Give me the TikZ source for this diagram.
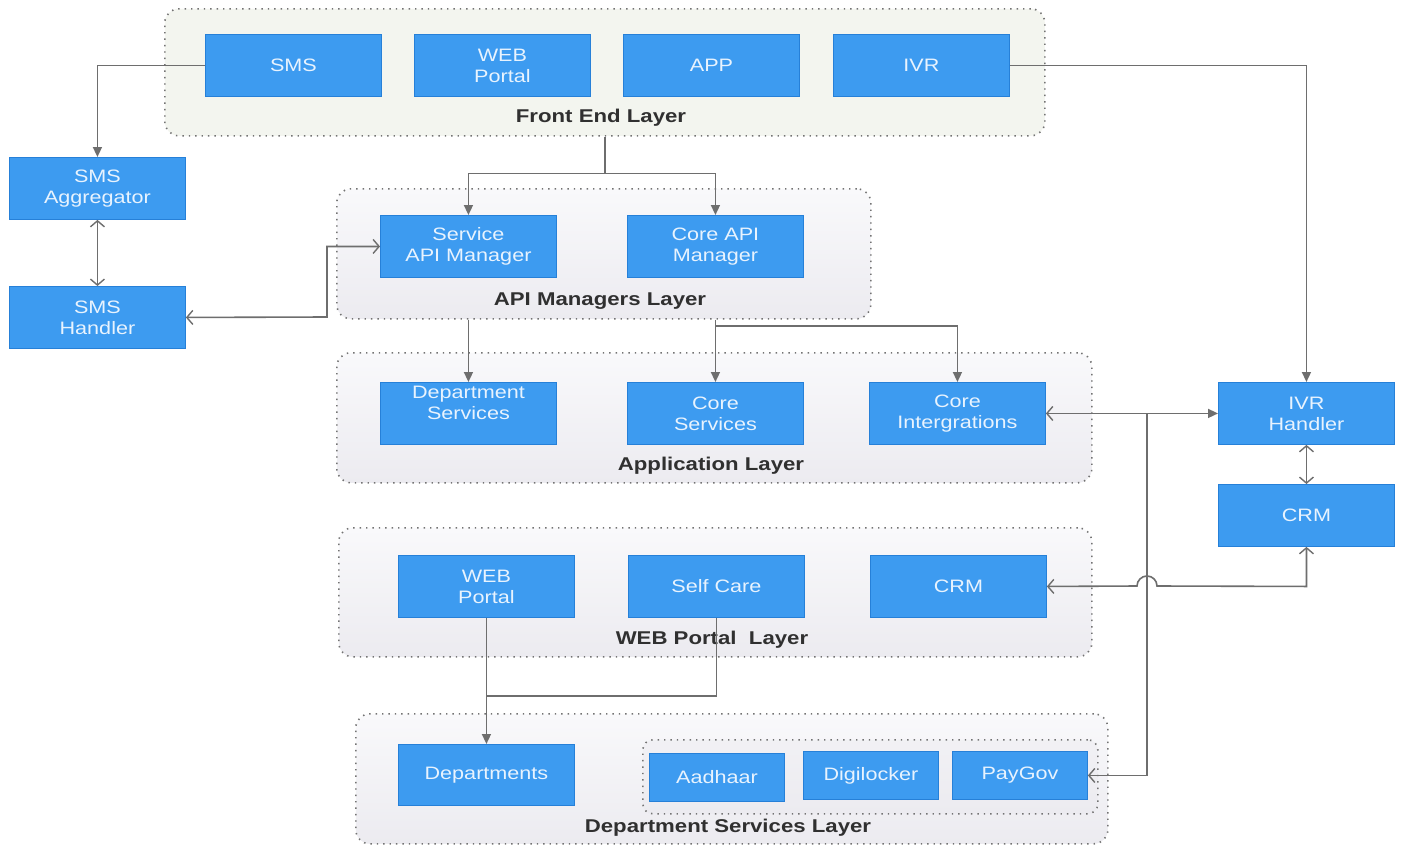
\documentclass[tikz,border=0pt]{standalone}
\usepackage{fontspec}
\setmainfont{Liberation Sans}[FakeStretch=1.2]
\usetikzlibrary{arrows.meta,calc}
\definecolor{boxfill}{RGB}{61,155,240}
\definecolor{boxdraw}{RGB}{38,128,216}
\definecolor{boxtextc}{RGB}{232,243,254}
\definecolor{linec}{RGB}{110,110,110}
\definecolor{layertop}{RGB}{249,249,251}
\definecolor{layerbot}{RGB}{236,235,240}
\definecolor{frontfill}{RGB}{243,245,239}
\definecolor{dotc}{RGB}{115,115,115}
\definecolor{labc}{RGB}{48,48,48}
\begin{document}
\begin{tikzpicture}[x=1pt,y=-1pt,
  box/.style={draw=boxdraw, line width=0.9pt, fill=boxfill, text=boxtextc, align=center,
    font=\fontsize{18}{21}\selectfont, inner sep=0pt, anchor=north west,
    minimum width=176, minimum height=62},
  boxtext/.style={text=boxtextc, align=center, font=\fontsize{18}{21}\selectfont, inner sep=0pt},
  layer/.style={draw=dotc, line width=1.6pt, dash pattern=on 1.4pt off 5pt,
    rounded corners=14pt, anchor=north west, inner sep=0pt,
    top color=layertop, bottom color=layerbot},
  layerlab/.style={text=labc, font=\fontsize{18.5}{21}\selectfont\bfseries, inner sep=0pt},
  conn/.style={draw=linec, line width=1.6pt},
  tri/.tip={Triangle[length=10pt,width=9pt]},
  barb/.tip={Straight Barb[length=6pt,width=14pt,line width=1.4pt]}
]
\useasboundingbox (0,0) rectangle (1403,846);
\fill[white] (0,0) rectangle (1403,846);

% layers
\node[layer, top color=frontfill, bottom color=frontfill, minimum width=880, minimum height=127] (fel) at (164,8) {};
\node[layer, minimum width=534, minimum height=130] (apil) at (336,188) {};
\node[layer, minimum width=755, minimum height=130] (appl) at (336,352) {};
\node[layer, minimum width=753, minimum height=129] (webl) at (338,527) {};
\node[layer, minimum width=752, minimum height=130] (depl) at (355,713) {};
\node[layer, top color=layerbot!60!layertop, bottom color=layerbot, minimum width=455, minimum height=74, rounded corners=10pt] (extl) at (642,739) {};

\node[layerlab] (fellab) at (601,118) {Front End Layer};
\node[layerlab] (apilab) at (600,301) {API Managers Layer};
\node[layerlab] (applab) at (711,466) {Application Layer};
\node[layerlab] (weblab) at (712,640) {WEB Portal~ Layer};
\node[layerlab] (deplab) at (728,828) {Department Services Layer};

% front end
\node[box] (sms) at (205,34) {SMS};
\node[box] (webf) at (414,34) {WEB\\Portal};
\node[box] (app) at (623,34) {APP};
\node[box] (ivr) at (833,34) {IVR};

% sms side
\node[box] (smsagg) at (9,157) {SMS\\Aggregator};
\node[box] (smshand) at (9,286) {SMS\\Handler};

% api managers
\node[box] (sapi) at (380,215) {Service\\API Manager};
\node[box] (capi) at (627,215) {Core API\\Manager};

% application
\node[box] (dserv) at (380,382) {};
\node[boxtext] (dservt) at ([yshift=11pt]dserv.center) {Department\\Services};
\node[box] (cserv) at (627,382) {Core\\Services};
\node[box] (cint) at (869,382) {Core\\Intergrations};

% ivr side
\node[box] (ivrh) at (1218,382) {IVR\\Handler};
\node[box] (crmr) at (1218,484) {CRM};

% web portal layer
\node[box] (webp) at (398,555) {WEB\\Portal};
\node[box] (selfc) at (628,555) {Self Care};
\node[box] (crmw) at (870,555) {CRM};

% department services
\node[box, minimum height=61] (deps) at (398,744) {Departments};
\node[box, minimum width=135, minimum height=48] (aadh) at (649,753) {Aadhaar};
\node[box, minimum width=135, minimum height=48] (digi) at (803,751) {Digilocker};
\node[box, minimum width=135, minimum height=48] (payg) at (952,751) {PayGov};

% connectors
\draw[conn,-tri] (sms.west) -| (smsagg.north);
\draw[conn,barb-barb] (smsagg.south) -- (smshand.north);
\draw[conn,barb-barb] (smshand.east) -- (327,317) |- (sapi.west);

\draw[conn] (fel.south) -- ++(0,37) coordinate (j1);
\draw[conn,-tri] (j1) -| (sapi.north);
\draw[conn,-tri] (j1) -| (capi.north);

\draw[conn,-tri] (ivr.east) -| (ivrh.north);

\draw[conn,-tri] (dserv.north |- apil.south) -- (dserv.north);
\draw[conn,-tri] (cserv.north |- apil.south) -- (cserv.north);
\draw[conn,-tri] (cserv.north |- 0,326) coordinate (j2) -| (cint.north);

\draw[conn,barb-tri] (cint.east) -- (ivrh.west);
\coordinate (j3) at (1147,413);
\draw[conn,-barb] (j3) |- (payg.east);

\draw[conn,barb-barb] (ivrh.south) -- (crmr.north);
\draw[conn,barb-barb] (crmr.south) -- (crmr.south |- crmw.east) -- (1157,586) arc (0:-180:10) -- (crmw.east);

\draw[conn,-tri] (webp.south) -- (webp.south |- deps.north);
\draw[conn] (selfc.south) |- (webp.south |- 0,696);
\end{tikzpicture}
\end{document}
